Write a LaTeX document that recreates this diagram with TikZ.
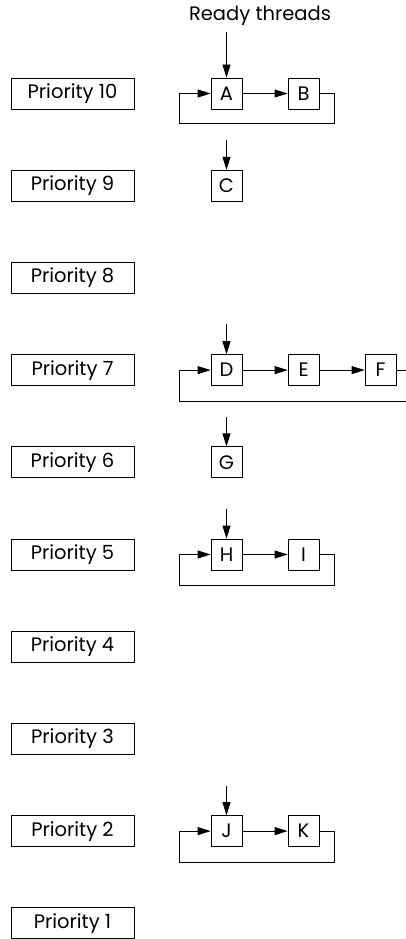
\documentclass[tikz,border=0pt]{standalone}
\usepackage{fontspec}
\setmainfont{Poppins}
\usetikzlibrary{arrows.meta,calc}
\begin{document}
\begin{tikzpicture}[x=1pt,y=-1pt,
  line width=0.8pt,
  lbl/.style={font=\fontsize{19.5}{22}\selectfont},
  prio/.style={draw,lbl,minimum width=123pt,minimum height=31pt,inner sep=0pt},
  thr/.style={draw,lbl,minimum width=31pt,minimum height=31pt,inner sep=0pt},
  arr/.style={-{Triangle[length=13pt,width=8pt]}}]
\useasboundingbox (0,0) rectangle (406,939);
% priority boxes
\foreach \p in {10,9,...,1}{
  \node[prio] (p\p) at (72.5,{93.5+(10-\p)*92.2}) {Priority \p};
}
\node[lbl] (rt) at (260,16) {Ready threads};
% row 10
\node[thr] (A) at (226.5,93.5) {A};
\node[thr] (B) at (303.5,93.5) {B};
\coordinate (inA) at (226.5,32);
\draw[arr] (inA) -- (A.north);
\draw[arr] (A.east) -- (B.west);
\draw[arr] (B.east) -- ++(15,0) -- ++(0,30) -| ($(A.west)+(-31,0)$) -- (A.west);
% row 9
\node[thr] (C) at (226.5,185.7) {C};
\coordinate (inC) at (226.5,140);
\draw[arr] (inC) -- (C.north);
% row 7
\node[thr] (D) at (226.5,370.1) {D};
\node[thr] (E) at (303.5,370.1) {E};
\node[thr] (F) at (380.5,370.1) {F};
\coordinate (inD) at (226.5,324);
\draw[arr] (inD) -- (D.north);
\draw[arr] (D.east) -- (E.west);
\draw[arr] (E.east) -- (F.west);
\draw[arr] (F.east) -- ++(15,0) -- ++(0,31) -| ($(D.west)+(-31,0)$) -- (D.west);
% row 6
\node[thr] (G) at (226.5,462.3) {G};
\coordinate (inG) at (226.5,417);
\draw[arr] (inG) -- (G.north);
% row 5
\node[thr] (H) at (226.5,554.5) {H};
\node[thr] (I) at (303.5,554.5) {I};
\coordinate (inH) at (226.5,509);
\draw[arr] (inH) -- (H.north);
\draw[arr] (H.east) -- (I.west);
\draw[arr] (I.east) -- ++(15,0) -- ++(0,31) -| ($(H.west)+(-31,0)$) -- (H.west);
% row 2
\node[thr] (J) at (226.5,831.1) {J};
\node[thr] (K) at (303.5,831.1) {K};
\coordinate (inJ) at (226.5,786);
\draw[arr] (inJ) -- (J.north);
\draw[arr] (J.east) -- (K.west);
\draw[arr] (K.east) -- ++(15,0) -- ++(0,31) -| ($(J.west)+(-31,0)$) -- (J.west);
\end{tikzpicture}
\end{document}
